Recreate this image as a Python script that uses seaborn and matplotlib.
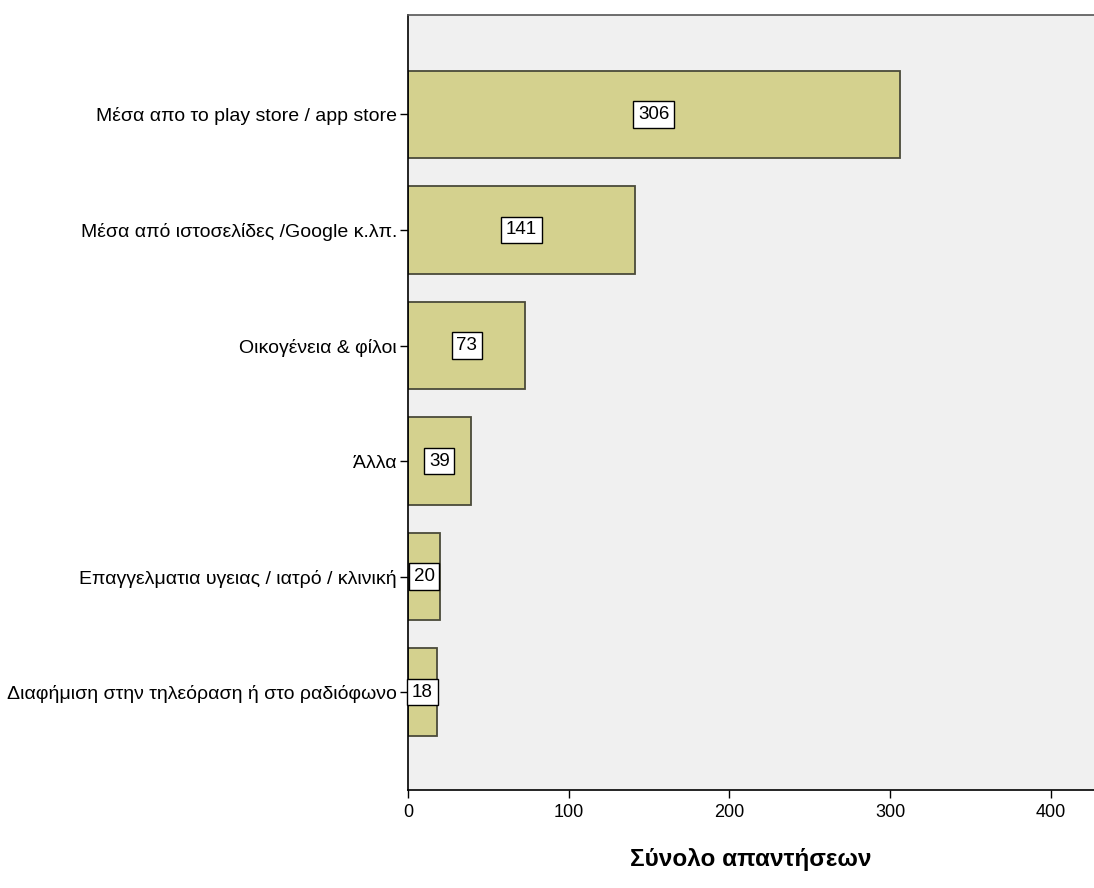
import pandas as pd
import seaborn as sns
import matplotlib
matplotlib.use('Agg')
import matplotlib.pyplot as plt

categories = [
    'Μέσα απο το play store / app store',
    'Μέσα από ιστοσελίδες /Google κ.λπ.',
    'Οικογένεια & φίλοι',
    'Άλλα',
    'Επαγγελματια υγειας / ιατρό / κλινική',
    'Διαφήμιση στην τηλεόραση ή στο ραδιόφωνο',
]
counts = [306, 141, 73, 39, 20, 18]

df = pd.DataFrame({'source': categories, 'count': counts})

sns.set_style('white')
plt.rcParams['font.family'] = ['Liberation Sans', 'DejaVu Sans']
plt.rcParams['text.color'] = 'black'
plt.rcParams['axes.labelcolor'] = 'black'

fig = plt.figure(figsize=(10.94, 8.88), dpi=100)
ax = fig.add_axes([0.373, 0.110, 0.627, 0.873])
ax.set_facecolor('#f0f0f0')

sns.barplot(data=df, x='count', y='source', order=categories,
            color='#d4d18e', saturation=1, width=0.76,
            edgecolor='#4a4a3a', linewidth=1.3, ax=ax)

# value labels in white boxes at the middle of each bar
for i, v in enumerate(counts):
    ax.text(v / 2, i, str(v), ha='center', va='center', fontsize=13.5,
            bbox=dict(boxstyle='square,pad=0.25', fc='white', ec='black', lw=1))

ax.set_xlim(0, 427)
ax.set_ylim(5.85, -0.86)
ax.set_xticks([0, 100, 200, 300, 400])
ax.tick_params(axis='both', direction='out', length=6, width=1, colors='black',
               left=True, bottom=True)
ax.tick_params(axis='y', labelsize=14, pad=2)
ax.tick_params(axis='x', labelsize=13)
ax.set_ylabel('')
ax.set_xlabel('Σύνολο απαντήσεων', fontsize=17.5, fontweight='bold', labelpad=20)

for side in ['left', 'bottom', 'top']:
    ax.spines[side].set_color('black')
    ax.spines[side].set_linewidth(1.2)
ax.spines['top'].set_color('#555555')
ax.spines['right'].set_visible(False)

plt.savefig('out.png', dpi=100)
